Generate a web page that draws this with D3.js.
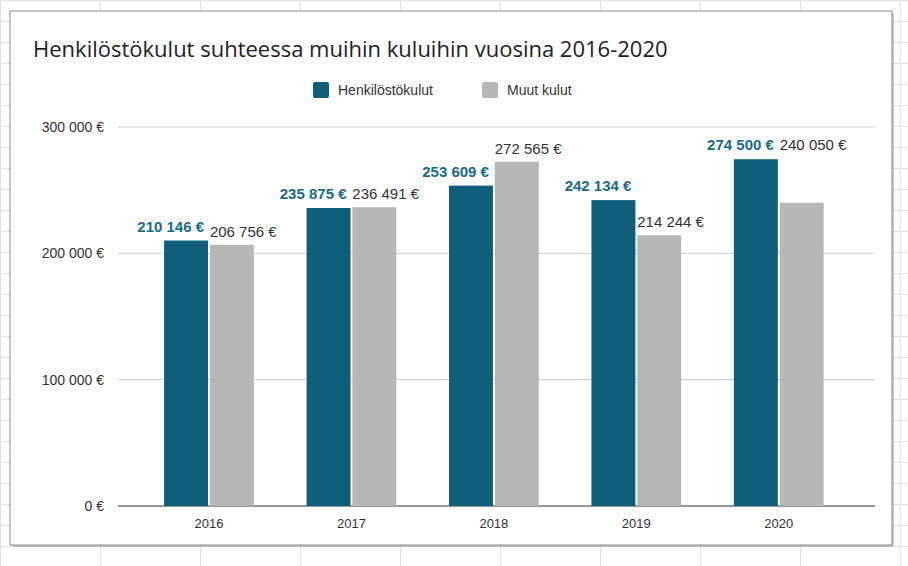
<!DOCTYPE html>
<html><head><meta charset="utf-8">
<script src="https://cdn.jsdelivr.net/npm/d3@7"></script>
<style>body{margin:0;background:#fff}</style></head>
<body><svg id="c" width="908" height="566"></svg>
<script>
const years = ["2016","2017","2018","2019","2020"];
const henk = [210146, 235875, 253609, 242134, 274500];
const muut = [206756, 236491, 272565, 214244, 240050];
const yTicks = [0, 100000, 200000, 300000];
const seriesNames = ["Henkilöstökulut", "Muut kulut"];
const colors = ["#0f5f7b", "#b7b7b7"];

const svg = d3.select("#c");
// spreadsheet grid behind
const g0 = svg.append("g");
[0,100,200,300,400,500,600,700,800,900].forEach(x=>g0.append("line").attr("x1",x+0.5).attr("x2",x+0.5).attr("y1",0).attr("y2",566).attr("stroke","#e3e3e3"));
[0,21,42,63,84,105,126,147,168,189,210,231,252,273,294,315,336,357,378,399,420,441,462,483,504,525,546].forEach(y=>g0.append("line").attr("x1",0).attr("x2",908).attr("y1",y+0.5).attr("y2",y+0.5).attr("stroke","#e3e3e3"));
svg.append("rect").attr("x",12).attr("y",13).attr("width",882).attr("height",534).attr("fill","#999").attr("opacity",0.5);
svg.append("rect").attr("x",10).attr("y",11).attr("width",882).attr("height",534).attr("fill","#fff").attr("stroke","#8a8a8a");

svg.append("text").attr("x",33).attr("y",57).attr("font-family","Open Sans").attr("font-size",22).attr("fill","#222").text("Henkilöstökulut suhteessa muihin kuluihin vuosina 2016-2020");

const lg = svg.append("g").attr("font-family","Liberation Sans").attr("font-size",14).attr("fill","#333");
[[313,seriesNames[0]],[482,seriesNames[1]]].forEach(([x,t],i)=>{
  lg.append("rect").attr("x",x).attr("y",82).attr("width",16).attr("height",16).attr("rx",2).attr("fill",colors[i]);
  lg.append("text").attr("x",x+25).attr("y",95).attr("fill","#333").text(t);
});

const y = d3.scaleLinear().domain([0,300000]).range([506,127]);
const x = d3.scaleBand().domain(years).range([137.75,850]).paddingInner(0.37).paddingOuter(0.185);
const x1 = d3.scaleBand().domain([0,1]).range([0,x.bandwidth()]).paddingInner(0.04);
const fmt = v => d3.format(",")(v).replace(/,/g," ") + " €";

const ax = svg.append("g");
yTicks.forEach(t=>{
  ax.append("line").attr("x1",118).attr("x2",875).attr("y1",y(t)).attr("y2",y(t)).attr("stroke",t===0?"#333":"#ccc");
  ax.append("text").attr("x",104).attr("y",y(t)+5).attr("text-anchor","end").attr("font-family","Liberation Sans").attr("font-size",14).attr("fill","#333").text(fmt(t));
});
years.forEach(yr=>ax.append("text").attr("x",x(yr)+x.bandwidth()/2).attr("y",528).attr("text-anchor","middle").attr("font-family","Liberation Sans").attr("font-size",13).attr("fill","#333").text(yr));

years.forEach((yr,i)=>{
  const vals=[henk[i],muut[i]];
  vals.forEach((v,j)=>{
    svg.append("rect").attr("x",x(yr)+x1(j)).attr("y",y(v)).attr("width",x1.bandwidth()).attr("height",y(0)-y(v)).attr("fill",colors[j]);
  });
  const hy = y(henk[i])-9;
  let my = y(muut[i])-8;
  if (henk[i]-muut[i] > 30000) my = hy;
  svg.append("text").attr("x",x(yr)+x1(0)+x1.bandwidth()-4).attr("y",hy).attr("text-anchor","end")
    .attr("font-family","Liberation Sans").attr("font-size",15).attr("font-weight","bold").attr("fill","#1a6b88").text(fmt(henk[i]));
  svg.append("text").attr("x",x(yr)+x1(1)).attr("y",my).attr("text-anchor","start")
    .attr("font-family","Liberation Sans").attr("font-size",15).attr("fill","#333").text(fmt(muut[i]));
});
</script></body></html>
